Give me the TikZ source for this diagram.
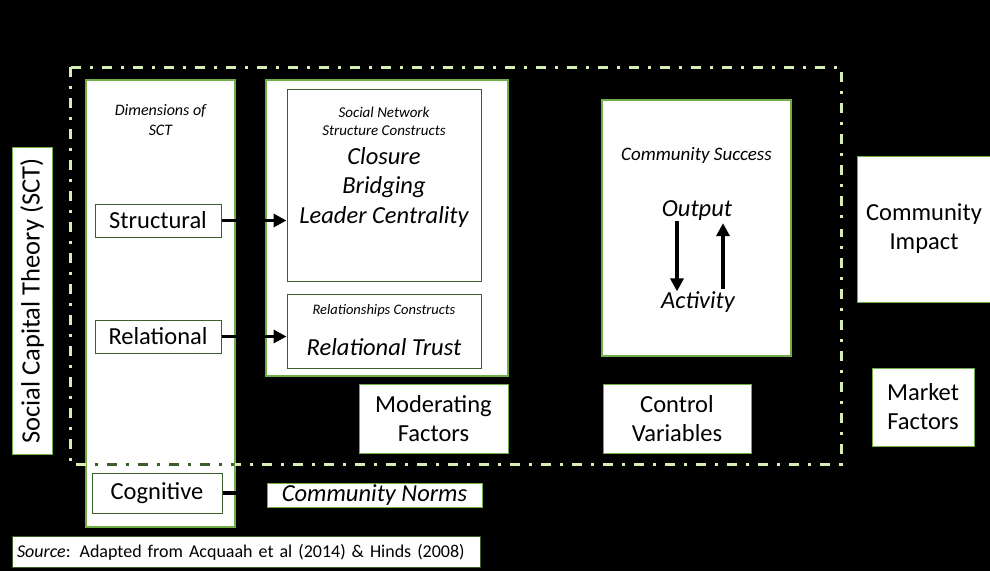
\documentclass[tikz,border=0pt]{standalone}
\usepackage{fontspec}
\setmainfont{Carlito}
\usepackage{tikz}
\usetikzlibrary{arrows.meta}

\definecolor{boxgreen}{HTML}{70AD47}
\definecolor{darkgreen}{HTML}{3B5E2B}
\definecolor{palegreen}{HTML}{D6EDB3}

\begin{document}
\begin{tikzpicture}[x=1pt,y=-1pt,
		panel/.style={draw=boxgreen,line width=2pt,fill=white,inner sep=0pt},
		item/.style={draw=darkgreen,line width=1pt,fill=white,inner sep=0pt,align=center,font=\fontsize{24.5}{29}\selectfont},
		plain/.style={draw=boxgreen,line width=1pt,fill=white,inner sep=0pt,align=center,font=\fontsize{24.5}{29}\selectfont},
		big/.style={inner sep=0pt,align=center,font=\fontsize{24.5}{29.5}\selectfont\itshape},
		small/.style={inner sep=0pt,align=center,font=\fontsize{15}{18}\selectfont\itshape},
		flow/.style={line width=3.5pt,-{Triangle[length=13pt,width=13pt]}},
		link/.style={line width=2pt}]
			\useasboundingbox (0,0) rectangle (990,571);
			\fill[black] (0,0) rectangle (990,571);

			% theory and its three dimensions
			\node[plain,rotate=90,minimum width=307,minimum height=40,font=\fontsize{26.5}{30}\selectfont] (sct) at (32,301) {Social Capital Theory (SCT)};
			\node[panel,minimum width=149,minimum height=447] (dims) at (160.5,303.5) {};
			\node[inner sep=0pt,align=center,font=\fontsize{16}{20}\selectfont\itshape] (dimstitle) at (160.5,120) {Dimensions of\\SCT};
			\node[item,minimum width=126,minimum height=33] (structural) at (158,220.5) {Structural};
			\node[item,minimum width=126,minimum height=33] (relational) at (158,336.5) {Relational};
			\node[item,minimum width=130,minimum height=40] (cognitive) at (157,493) {Cognitive};

			% constructs
			\node[panel,minimum width=242,minimum height=296] (constructs) at (387,228) {};
			\node[item,minimum width=194,minimum height=192] (snet) at (384,185) {};
			\node[small] (snettitle) at (384,121) {Social Network\\Structure Constructs};
			\node[big] (snetitems) at (384,187) {Closure\\Bridging\\Leader Centrality};
			\node[item,minimum width=194,minimum height=74] (rel) at (384,331) {};
			\node[small,font=\fontsize{14.5}{18}\selectfont\itshape] (reltitle) at (384,311) {Relationships Constructs};
			\node[big] (trust) at (384,347) {Relational Trust};

			% outcomes
			\node[panel,minimum width=189,minimum height=256] (success) at (696.5,228) {};
			\node[inner sep=0pt,font=\fontsize{19}{22}\selectfont\itshape] (successtitle) at (696.5,155) {Community Success};
			\node[big] (output) at (697,211) {Output};
			\node[big] (activity) at (698,302) {Activity};
			\node[plain,minimum width=134,minimum height=146] (impact) at (924,229) {Community\\Impact};
			\node[plain,minimum width=102,minimum height=78] (market) at (923,407) {Market\\Factors};
			\node[plain,minimum width=149,minimum height=69] (moderating) at (433.5,418.5) {Moderating\\Factors};
			\node[plain,minimum width=148,minimum height=69] (control) at (677,418.5) {Control\\Variables};
			\node[plain,minimum width=215,minimum height=24,font=\fontsize{24.5}{29}\selectfont\itshape] (norms) at (374.5,495) {Community Norms};
			\node[draw=darkgreen,line width=1pt,fill=white,inner xsep=5pt,inner ysep=0pt,minimum height=31,text width=458,align=left,font=\fontsize{18}{22}\selectfont] (source) at (246,552) {\textit{Source}: Adapted from Acquaah et al (2014) \& Hinds (2008)};

			% boundary of the model
			\draw[palegreen,line width=3pt,dash pattern=on 10pt off 9pt on 3pt off 9pt] (70,67) rectangle (841,464);
			\begin{scope}
				\clip ([xshift=1.5pt]dims.south west) rectangle ([xshift=-1.5pt]dims.north east);
				\draw[darkgreen,line width=3pt,dash pattern=on 10pt off 9pt on 3pt off 9pt] (70,67) rectangle (841,464);
			\end{scope}

			\draw[flow] (structural.east) -- (structural.east -| snet.west);
			\draw[flow] (relational.east) -- (relational.east -| rel.west);
			\draw[line width=3.5pt] (cognitive.east) -- (cognitive.east -| norms.west);
			\draw[flow] ([xshift=-20pt,yshift=0pt]output.south) -- ([xshift=-21pt]activity.north);
			\draw[flow] ([xshift=25pt,yshift=2pt]activity.north) -- ([xshift=26pt,yshift=-2pt]output.south);
			\draw[link] (sct.south) -- (sct.south -| dims.west);
			\draw[link] (constructs.east) -- (success.west);
			\draw[link] (success.east) -- (success.east -| impact.west);
			\draw[link] (market.north) -- (market.north |- impact.south);
		\end{tikzpicture}
\end{document}
